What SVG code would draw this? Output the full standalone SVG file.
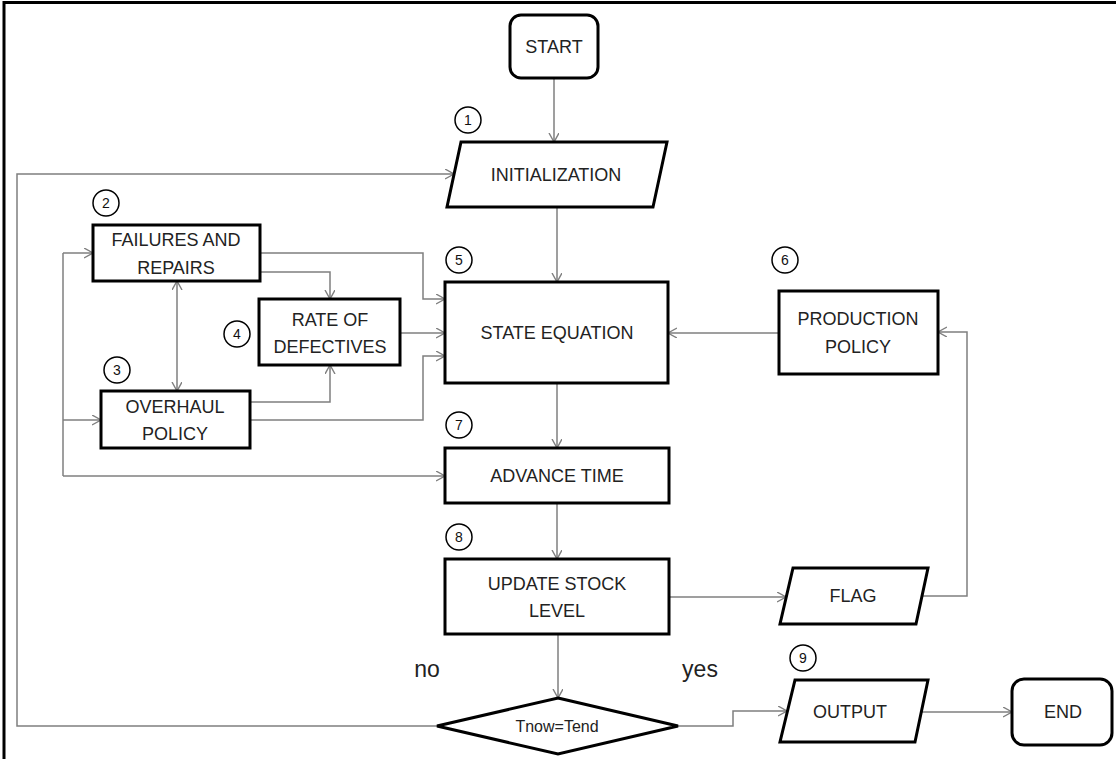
<svg xmlns="http://www.w3.org/2000/svg" width="1116" height="759" viewBox="0 0 1116 759">
<defs>
<marker id="arr" markerUnits="userSpaceOnUse" markerWidth="12" markerHeight="12" refX="9" refY="5" orient="auto-start-reverse" viewBox="0 0 12 12">
<path d="M0,0 L9,5 L0,10" fill="none" stroke="#7f7f7f" stroke-width="1.4"/>
</marker>
<style>
.box{fill:#fff;stroke:#000;stroke-width:3}
.num{fill:#fff;stroke:#000;stroke-width:1.5}
.t{font-family:"Liberation Sans",Arial,sans-serif;font-size:18px;fill:#222;text-anchor:middle}
.n{font-family:"Liberation Sans",Arial,sans-serif;font-size:14px;fill:#111;text-anchor:middle}
.lab{font-family:"Liberation Sans",Arial,sans-serif;font-size:23px;fill:#222;text-anchor:middle}
.c{fill:none;stroke:#7f7f7f;stroke-width:1.5}
.ca{fill:none;stroke:#7f7f7f;stroke-width:1.5;marker-end:url(#arr)}
</style>
</defs>
<rect width="1116" height="759" fill="#fff"/>
<g id="frame"><path d="M4,759 V2.5 H1116" fill="none" stroke="#000" stroke-width="3"/></g>

<g id="connectors">
<path class="ca" d="M554,78 V142"/>
<path class="ca" d="M437,726 H17 V174 H454"/>
<path class="ca" d="M557,207 V282"/>
<path class="c" d="M63,253 V476"/>
<path class="ca" d="M63,253 H93"/>
<path class="ca" d="M63,420 H101"/>
<path class="ca" d="M63,476 H445"/>
<path class="ca" d="M260,253 H423 V299 H445"/>
<path class="ca" d="M260,272 H330 V299"/>
<path class="ca" d="M400,333 H445"/>
<path class="ca" d="M250,402 H330 V365"/>
<path class="ca" d="M250,420 H423 V356 H445"/>
<path class="ca" style="marker-start:url(#arr)" d="M177,281 V391"/>
<path class="ca" d="M779,333 H668"/>
<path class="ca" d="M557,383 V448"/>
<path class="ca" d="M557,503 V559"/>
<path class="ca" d="M669,597 H786"/>
<path class="ca" d="M922,596 H967 V332 H938"/>
<path class="ca" d="M558,634 V698"/>
<path class="ca" d="M678,726 H733 V711 H787"/>
<path class="ca" d="M921,712 H1012"/>
</g>

<g id="start"><rect class="box" x="510" y="15" width="88" height="63" rx="11"/><text class="t" x="554" y="53">START</text></g>
<g id="n1"><circle class="num" cx="468" cy="120" r="13"/><text class="n" x="468" y="125">1</text></g>
<g id="init"><polygon class="box" points="461,142 667,142 653,207 447,207"/><text class="t" x="556" y="181">INITIALIZATION</text></g>
<g id="n2"><circle class="num" cx="106" cy="203" r="13"/><text class="n" x="106" y="208">2</text></g>
<g id="failures"><rect class="box" x="93" y="225" width="167" height="56"/><text class="t" x="176" y="246">FAILURES AND</text><text class="t" x="176" y="274">REPAIRS</text></g>
<g id="n3"><circle class="num" cx="117" cy="370" r="13"/><text class="n" x="117" y="375">3</text></g>
<g id="overhaul"><rect class="box" x="101" y="391" width="149" height="57"/><text class="t" x="175" y="413">OVERHAUL</text><text class="t" x="175" y="440">POLICY</text></g>
<g id="n4"><circle class="num" cx="237" cy="334" r="13"/><text class="n" x="237" y="339">4</text></g>
<g id="rate"><rect class="box" x="259" y="299" width="141" height="66"/><text class="t" x="330" y="326">RATE OF</text><text class="t" x="330" y="353">DEFECTIVES</text></g>
<g id="n5"><circle class="num" cx="459" cy="260" r="13"/><text class="n" x="459" y="265">5</text></g>
<g id="state"><rect class="box" x="445" y="282" width="223" height="101"/><text class="t" x="557" y="339">STATE EQUATION</text></g>
<g id="n6"><circle class="num" cx="785" cy="260" r="13"/><text class="n" x="785" y="265">6</text></g>
<g id="production"><rect class="box" x="779" y="291" width="159" height="83"/><text class="t" x="858" y="325">PRODUCTION</text><text class="t" x="858" y="353">POLICY</text></g>
<g id="n7"><circle class="num" cx="459" cy="425" r="13"/><text class="n" x="459" y="430">7</text></g>
<g id="advance"><rect class="box" x="445" y="448" width="224" height="55"/><text class="t" x="557" y="482">ADVANCE TIME</text></g>
<g id="n8"><circle class="num" cx="459" cy="537" r="13"/><text class="n" x="459" y="542">8</text></g>
<g id="update"><rect class="box" x="445" y="559" width="224" height="75"/><text class="t" x="557" y="590">UPDATE STOCK</text><text class="t" x="557" y="617">LEVEL</text></g>
<g id="flag"><polygon class="box" points="793,568 928,568 916,624 780,624"/><text class="t" x="853" y="602">FLAG</text></g>
<g id="n9"><circle class="num" cx="803" cy="658" r="13"/><text class="n" x="803" y="663">9</text></g>
<g id="output"><polygon class="box" points="795,680 928,680 915,742 780,742"/><text class="t" x="850" y="718">OUTPUT</text></g>
<g id="end"><rect class="box" x="1012" y="679" width="100" height="66" rx="12"/><text class="t" x="1063" y="718">END</text></g>
<g id="decision"><polygon class="box" points="558,698 678,726 558,754 437,726"/><text class="t" style="font-size:16px" x="557" y="732">Tnow=Tend</text></g>
<g id="labels"><text class="lab" x="427" y="677">no</text><text class="lab" x="700" y="677">yes</text></g>
</svg>
